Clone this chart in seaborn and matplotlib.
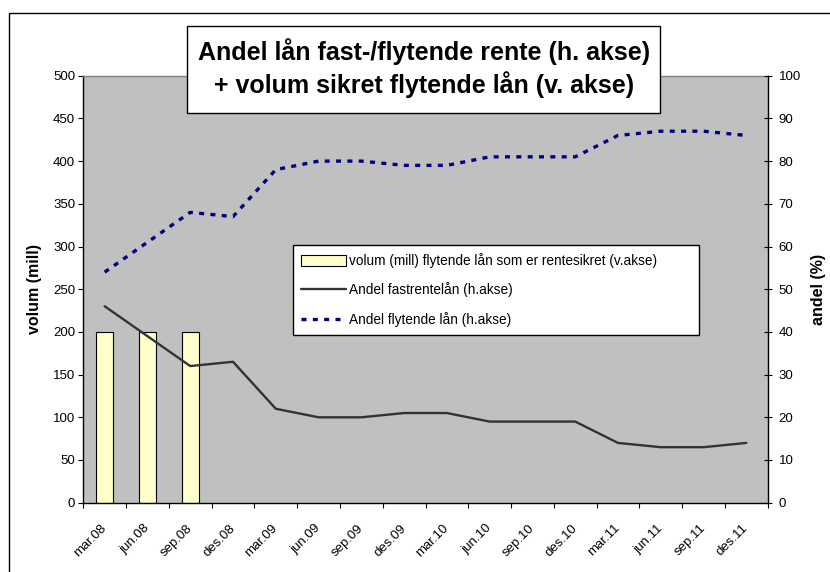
import numpy as np
import pandas as pd
import matplotlib.pyplot as plt
from matplotlib.patches import Rectangle
from matplotlib.transforms import ScaledTranslation
import seaborn as sns

sns.set_theme(style="ticks")
plt.rcParams['font.family'] = ['Liberation Sans', 'DejaVu Sans']
plt.rcParams['text.color'] = 'black'
plt.rcParams['axes.labelcolor'] = 'black'
plt.rcParams['xtick.color'] = 'black'
plt.rcParams['ytick.color'] = 'black'

# Data
kvartaler = ['mar.08', 'jun.08', 'sep.08', 'des.08', 'mar.09', 'jun.09', 'sep.09', 'des.09',
             'mar.10', 'jun.10', 'sep.10', 'des.10', 'mar.11', 'jun.11', 'sep.11', 'des.11']
volum_sikret = [200, 200, 200] + [np.nan] * 13
andel_fast = [46, 39, 32, 33, 22, 20, 20, 21, 21, 19, 19, 19, 14, 13, 13, 14]
andel_flyt = [54, 61, 68, 67, 78, 80, 80, 79, 79, 81, 81, 81, 86, 87, 87, 86]

df = pd.DataFrame({'kvartal': kvartaler, 'volum': volum_sikret,
                   'fast': andel_fast, 'flyt': andel_flyt})

W, H = 830, 572
fig = plt.figure(figsize=(W / 100, H / 100), dpi=100)
fig.patch.set_facecolor('white')

# outer chart frame (cut off at right/bottom like the reference)
fig.patches.append(Rectangle((9 / W, -0.05), 1.2, 1 - 13 / H + 0.05, transform=fig.transFigure,
                             fill=False, edgecolor='black', linewidth=1.0, zorder=0))

x0, x1, y0, y1 = 83.3, 767.7, 75.7, 502.7
ax = fig.add_axes([x0 / W, 1 - y1 / H, (x1 - x0) / W, (y1 - y0) / H])
ax.set_facecolor('#C0C0C0')

sns.barplot(data=df, x='kvartal', y='volum', order=kvartaler, ax=ax, width=0.4,
            color='#FFFFCC', saturation=1, edgecolor='black', linewidth=0.8,
            label='volum (mill) flytende lån som er rentesikret (v.akse)')

ax2 = ax.twinx()
sns.lineplot(data=df, x='kvartal', y='fast', ax=ax2, color='#333333', linewidth=1.7,
             label='Andel fastrentelån (h.akse)')
sns.lineplot(data=df, x='kvartal', y='flyt', ax=ax2, color='#000080', linewidth=2.4,
             linestyle=(0, (1.5, 1.9)), dash_capstyle='butt',
             label='Andel flytende lån (h.akse)')

ax.set_xlim(-0.5, len(kvartaler) - 0.5)
ax.set_ylim(0, 500)
ax2.set_ylim(0, 100)
ax.set_yticks(np.arange(0, 501, 50))
ax2.set_yticks(np.arange(0, 101, 10))

ax.set_xticks(range(len(kvartaler)))
ax.set_xticklabels(kvartaler, rotation=45, ha='right', va='center', rotation_mode='anchor',
                   fontsize=9.5)
shift = ScaledTranslation(-9 / 100, 0, fig.dpi_scale_trans)
for lab in ax.get_xticklabels():
    lab.set_transform(lab.get_transform() + shift)
ax.set_xticks(np.arange(-0.5, len(kvartaler), 1), minor=True)
ax.tick_params(axis='x', which='major', length=0, pad=17)
ax.tick_params(axis='x', which='minor', length=3.5, width=0.8, color='black', direction='out')
ax.tick_params(axis='y', length=3.8, width=0.8, color='black', direction='out', labelsize=9.5, pad=2)
ax2.tick_params(axis='y', length=6, width=0.8, color='black', direction='inout', labelsize=9.5, pad=5)
ax2.tick_params(axis='x', which='both', length=0)

ax.set_xlabel('')
ax.set_ylabel('volum (mill)', fontsize=11.5, fontweight='bold')
ax.yaxis.label.set_va('center')
ax.yaxis.set_label_coords((34 - x0) / (x1 - x0), 0.5)
ax2.set_ylabel('andel (%)', fontsize=11.5, fontweight='bold', rotation=90)
ax2.yaxis.label.set_va('center')
ax2.yaxis.set_label_coords((818 - x0) / (x1 - x0), 0.5)

for side in ['left', 'bottom']:
    ax.spines[side].set_color('black')
    ax.spines[side].set_linewidth(1.0)
ax.spines['top'].set_color('#808080')
ax.spines['top'].set_linewidth(1.0)
ax.spines['right'].set_visible(False)
for side in ['left', 'bottom', 'top']:
    ax2.spines[side].set_visible(False)
ax2.spines['right'].set_color('black')
ax2.spines['right'].set_linewidth(1.0)

# combined legend
h1, l1 = ax.get_legend_handles_labels()
h2, l2 = ax2.get_legend_handles_labels()
if ax.get_legend():
    ax.get_legend().remove()
leg = ax2.legend(h1 + h2, l1 + l2, loc='upper left',
                 bbox_to_anchor=(293 / W, 1 - 333 / H, 406 / W, 88 / H),
                 bbox_transform=fig.transFigure, mode='expand', borderaxespad=0,
                 fontsize=9.8, frameon=True, fancybox=False, handlelength=3.3,
                 handleheight=0.85, labelspacing=1.05, borderpad=0.6, handletextpad=0.25)
leg.get_frame().set_edgecolor('black')
leg.get_frame().set_linewidth(1.0)
leg.get_frame().set_facecolor('white')
leg.get_frame().set_alpha(1)

# title box
fig.patches.append(Rectangle((187.3 / W, 1 - 113.3 / H), (660 - 187.3) / W, (113.3 - 25.7) / H,
                             transform=fig.transFigure, facecolor='white', edgecolor='black',
                             linewidth=1.0, zorder=5))
fig.text(423.6 / W, 1 - 52 / H, 'Andel lån fast-/flytende rente (h. akse)', ha='center',
         va='center', fontsize=18, fontweight='bold', zorder=6)
fig.text(423.6 / W, 1 - 85 / H, '+ volum sikret flytende lån (v. akse)', ha='center',
         va='center', fontsize=18, fontweight='bold', zorder=6)

fig.savefig('out.png', dpi=100)
